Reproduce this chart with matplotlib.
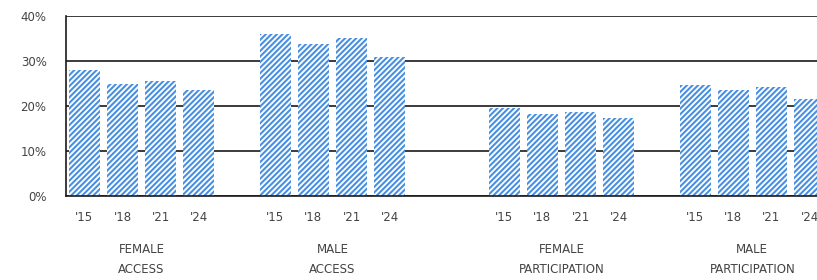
import matplotlib
matplotlib.use("Agg")
import matplotlib.pyplot as plt
import numpy as np

# Data
groups = ["FEMALE\nACCESS", "MALE\nACCESS", "FEMALE\nPARTICIPATION", "MALE\nPARTICIPATION"]
years = ["'15", "'18", "'21", "'24"]
female_access = [28.0, 24.8, 25.6, 23.5]
male_access = [36.0, 33.7, 35.2, 30.8]
female_participation = [19.6, 18.3, 18.7, 17.4]
male_participation = [24.7, 23.5, 24.2, 21.5]
series = [female_access, male_access, female_participation, male_participation]
y_ticks = [0, 10, 20, 30, 40]
y_tick_labels = ["0%", "10%", "20%", "30%", "40%"]

# Layout: slot offsets of each group
group_starts = [0, 5, 11, 16]

plt.rcParams['font.family'] = ['DejaVu Sans']
plt.rcParams['hatch.linewidth'] = 1.5

W, H = 817, 280
fig = plt.figure(figsize=(W / 100, H / 100), dpi=100)
slot_px = 38.17
x_left, x_right = -0.48, 19.5
ax_left_px = 66
ax_w_px = (x_right - x_left) * slot_px
ax = fig.add_axes([ax_left_px / W, (H - 196) / H, ax_w_px / W, 180 / H])

blue = "#4a90e2"
text_col = "#444444"

xs_all, labels_all = [], []
for g, vals in enumerate(series):
    xs = [group_starts[g] + i for i in range(len(vals))]
    ax.bar(xs, vals, width=0.81, facecolor="white", edgecolor=blue,
           hatch="//////", linewidth=0, zorder=3)
    xs_all += xs
    labels_all += years
    cx = group_starts[g] + (len(vals) - 1) / 2
    ax.text(cx, -0.26, groups[g], transform=ax.get_xaxis_transform(),
            ha="center", va="top", fontsize=8.5, color=text_col,
            linespacing=1.75, clip_on=False)

ax.set_xlim(x_left, x_right)
ax.set_ylim(0, 40)
ax.set_yticks(y_ticks)
ax.set_yticklabels(y_tick_labels)
ax.set_xticks(xs_all)
ax.set_xticklabels(labels_all)
ax.tick_params(axis="both", length=0, labelsize=8.5, labelcolor=text_col)
ax.tick_params(axis="y", pad=14)
ax.tick_params(axis="x", pad=11)

ax.yaxis.grid(True, color="#1a1a1a", linewidth=1.2, zorder=1)
ax.set_axisbelow(True)
for s in ["top", "right"]:
    ax.spines[s].set_visible(False)
for s in ["left", "bottom"]:
    ax.spines[s].set_color("#1a1a1a")
    ax.spines[s].set_linewidth(1.2)
    ax.spines[s].set_zorder(4)

fig.savefig("out.png", dpi=100)
